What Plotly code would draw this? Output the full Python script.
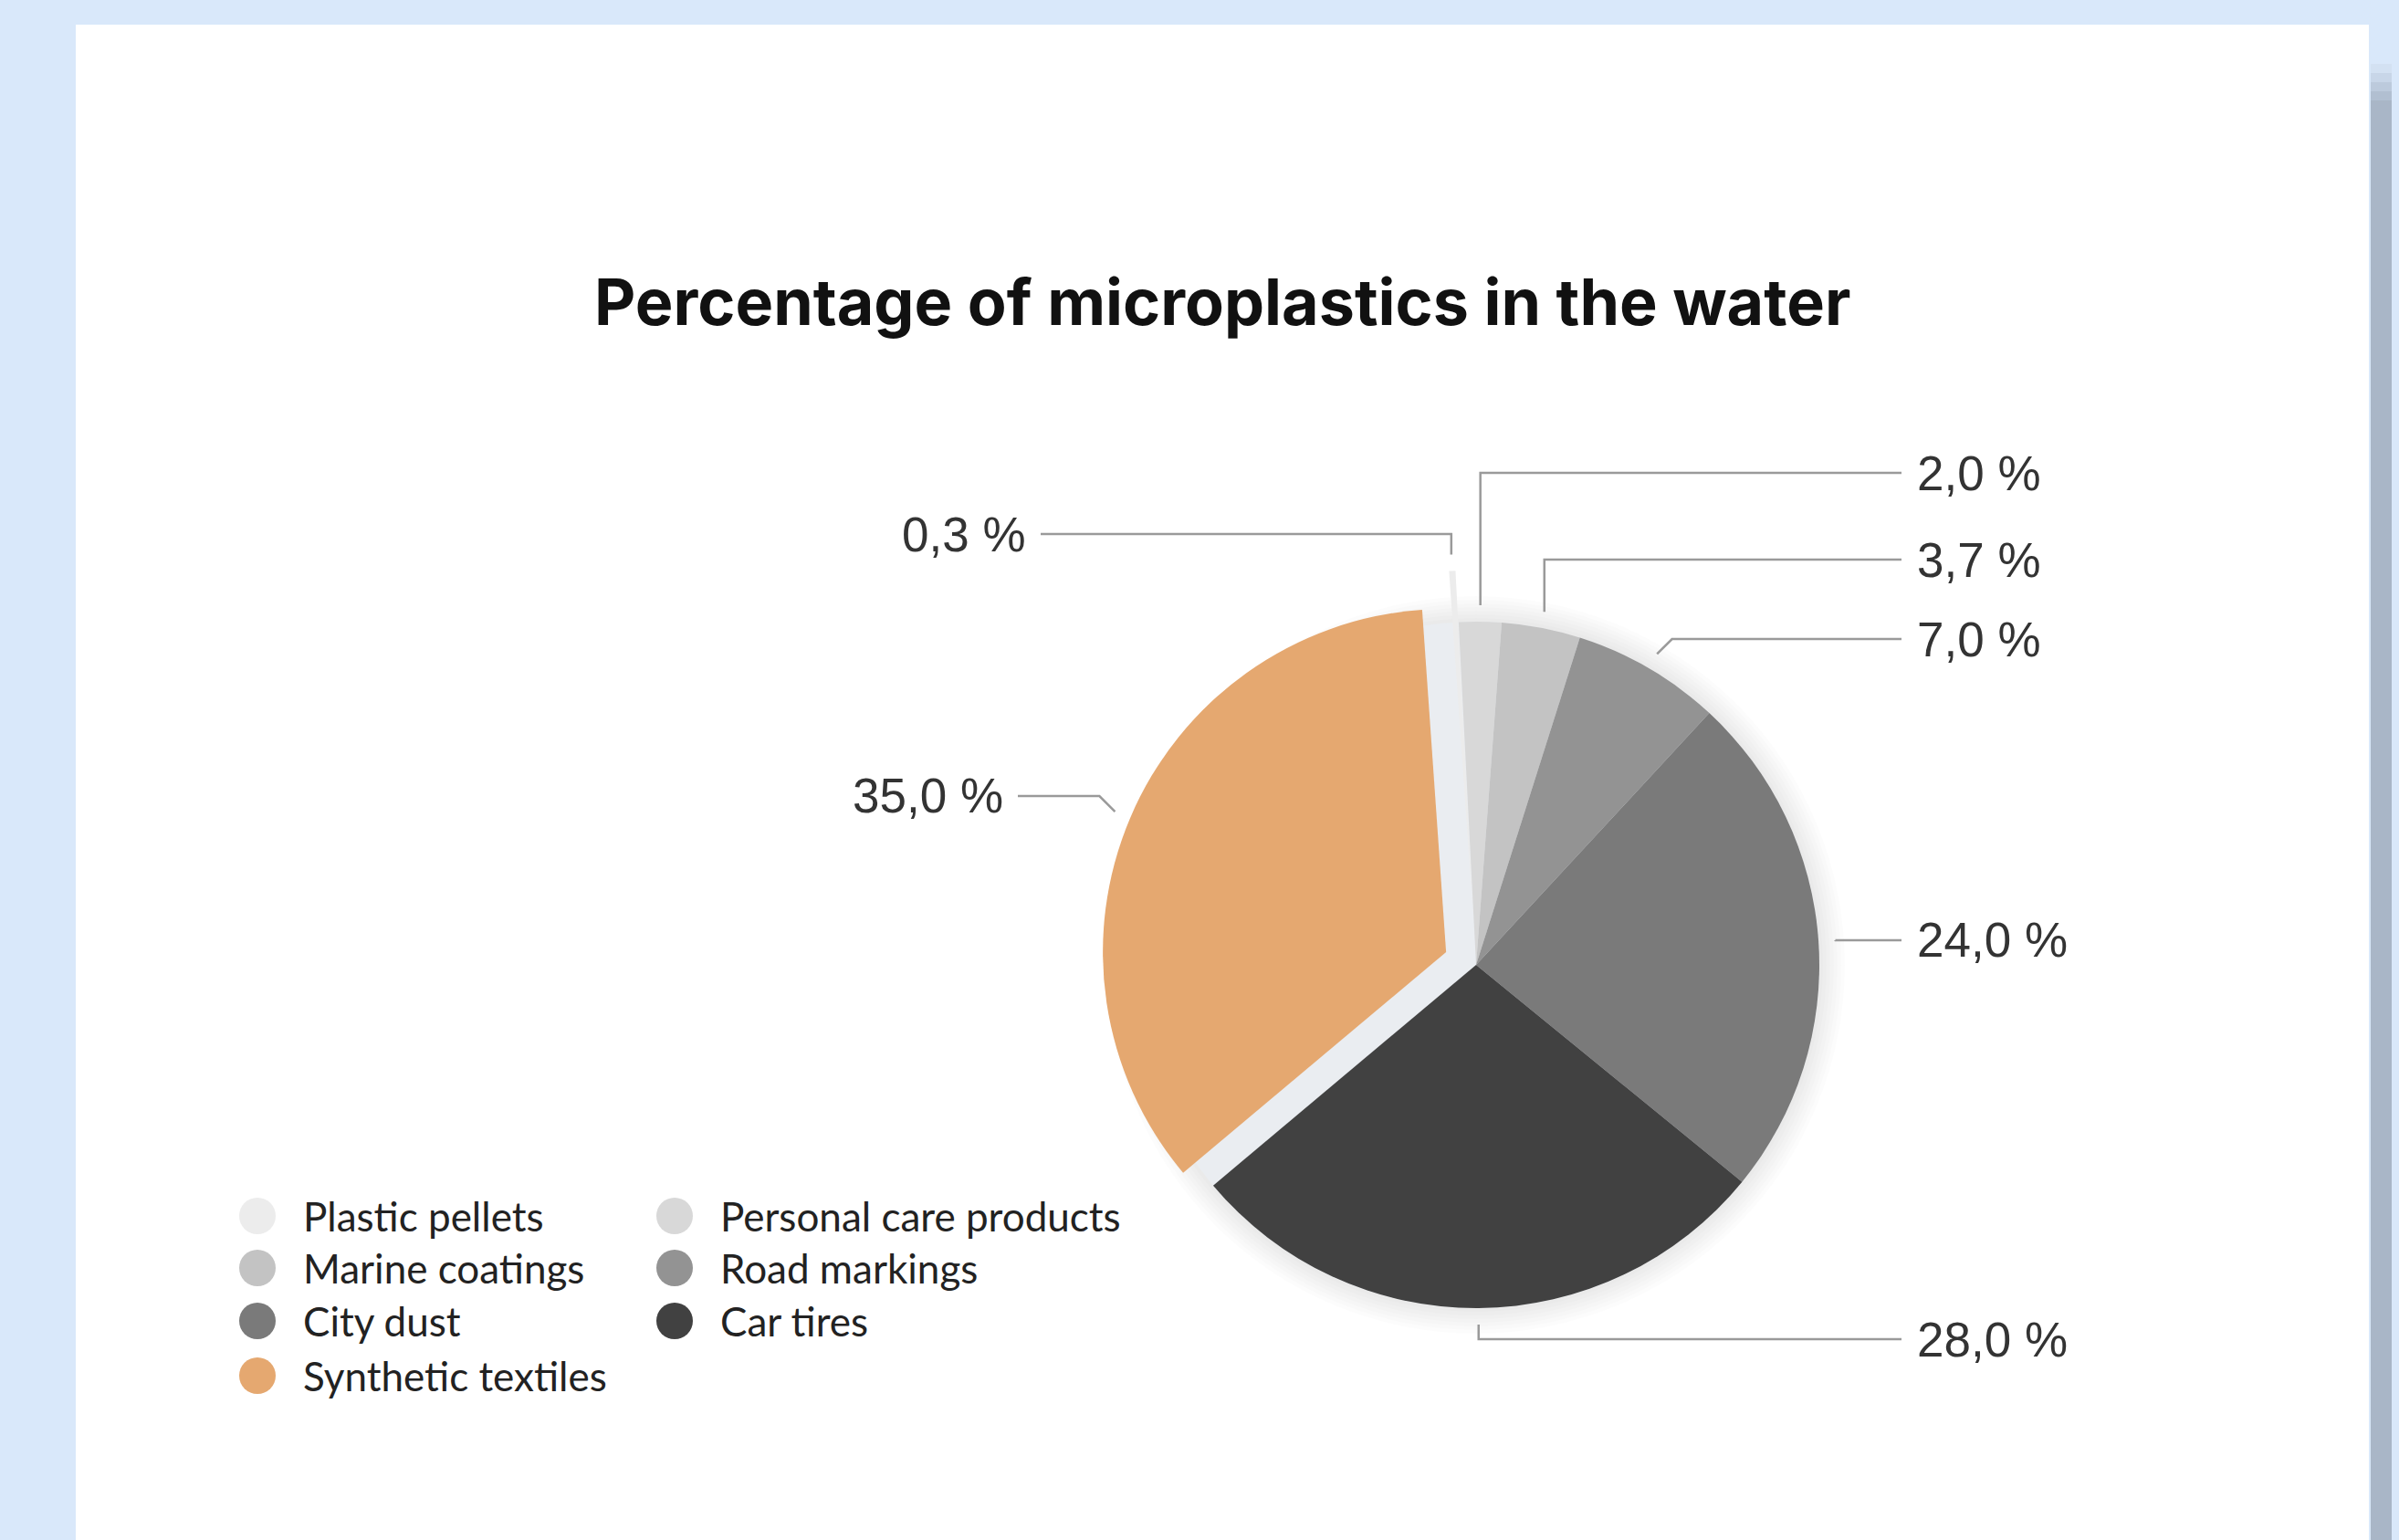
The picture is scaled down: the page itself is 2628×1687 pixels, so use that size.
import math
import plotly.graph_objects as go

# ---------------- data ----------------
categories = ["Plastic pellets", "Personal care products", "Marine coatings",
              "Road markings", "City dust", "Car tires", "Synthetic textiles"]
shares = [0.3, 2.0, 3.7, 7.0, 24.0, 28.0, 35.0]
colors = ["#ececec", "#d8d8d8", "#c3c3c3", "#939393", "#7a7a7a", "#414141", "#e5a870"]
pulls = [0.15, 0, 0, 0, 0, 0, 0.095]
title_text = "Percentage of microplastics in the water"

# ---------------- layout (pixels, screen coords) ----------------
W, H = 2628, 1687
OFF = 8                               # page body margin compensation
CX, CY, R = 1617, 1057, 376          # pie centre / radius
START_DEG = -4                        # first slice starts here (clockwise from 12 o'clock)
label_y = [585, 518, 613, 700, 1030, 1467, 872]
label_side = ["left", "right", "right", "right", "right", "right", "left"]
label_x = [1126, 2098, 2098, 2098, 2098, 2098, 1101]
legend_col_x = [282, 739]
legend_row_y = [1332, 1389, 1447, 1507]
BG = "#d9e8fa"


def px(x):
    return (x - OFF) / W


def py(y):
    return 1 - (y - OFF) / H


max_pull = max(pulls)
half = R * (1 + max_pull)
dom_x = [px(CX - half), px(CX + half)]
dom_y = [py(CY + half), py(CY - half)]

shapes = []
# background card + right shadow strip
shapes.append(dict(type="rect", xref="paper", yref="paper", x0=px(83), x1=px(2595),
                   y0=py(1720), y1=py(27), fillcolor="white", line=dict(width=0), layer="below"))
grad = ["#d3e1f2", "#c8d6e8", "#bccadc", "#b1bfd1", "#a9b6c7"]
for i, c in enumerate(grad):
    shapes.append(dict(type="rect", xref="paper", yref="paper", x0=px(2597), x1=px(2640),
                       y0=py(70 + i * 10 + 10), y1=py(70 + i * 10), fillcolor=c,
                       line=dict(width=0), layer="below"))
shapes.append(dict(type="rect", xref="paper", yref="paper", x0=px(2597), x1=px(2640),
                   y0=py(1720), y1=py(120), fillcolor="#a9b6c7", line=dict(width=0), layer="below"))

# soft glow around the pie
for k in range(7, 0, -1):
    rr = R + k * 4
    shapes.append(dict(type="circle", xref="paper", yref="paper",
                       x0=px(CX - rr), x1=px(CX + rr), y0=py(CY + rr), y1=py(CY - rr),
                       fillcolor="rgba(0,0,0,0.011)", line=dict(width=0), layer="below"))
shapes.append(dict(type="circle", xref="paper", yref="paper",
                   x0=px(CX - R), x1=px(CX + R), y0=py(CY + R), y1=py(CY - R),
                   fillcolor="#eaedf1", line=dict(width=0), layer="below"))

# leader lines + value labels
annotations = []
total = sum(shares)
cum = 0.0
for i, v in enumerate(shares):
    mid = math.radians(START_DEG + (cum + v / 2) / total * 360)
    cum += v
    rad = R * (1 + pulls[i]) + 18
    sx = CX + rad * math.sin(mid)
    sy = CY - rad * math.cos(mid)
    ly = label_y[i]
    dy = ly - sy
    if abs(dy) < 30 and abs(math.sin(mid)) > 0.3:
        ex = sx + (abs(dy) if math.sin(mid) > 0 else -abs(dy))
    else:
        ex = sx
    if label_side[i] == "right":
        hx = label_x[i] - 15
        xanchor = "left"
    else:
        hx = label_x[i] + 14
        xanchor = "right"
    path = f"M {px(sx)},{py(sy)} L {px(ex)},{py(ly)} L {px(hx)},{py(ly)}"
    shapes.append(dict(type="path", xref="paper", yref="paper", path=path,
                       line=dict(color="#9a9a9a", width=2.5)))
    annotations.append(dict(text=f"{v:.1f}".replace(".", ",") + " %", x=px(label_x[i]),
                            y=py(ly), xref="paper", yref="paper", xanchor=xanchor,
                            yanchor="middle", showarrow=False,
                            font=dict(family="Liberation Sans", size=53, color="#333333")))

# custom legend
for i, name in enumerate(categories):
    mx = legend_col_x[i % 2]
    my = legend_row_y[i // 2]
    shapes.append(dict(type="circle", xref="paper", yref="paper",
                       x0=px(mx - 20), x1=px(mx + 20), y0=py(my + 20), y1=py(my - 20),
                       fillcolor=colors[i], line=dict(width=0)))
    annotations.append(dict(text=name, x=px(mx + 48), y=py(my), xref="paper", yref="paper",
                            xanchor="left", yanchor="middle", showarrow=False,
                            font=dict(family="Lato", size=44, color="#222222")))

# title
annotations.append(dict(text=title_text, x=px(1339), y=py(330), xref="paper", yref="paper",
                        xanchor="center", yanchor="middle", showarrow=False,
                        font=dict(family="Inter", size=70, color="#111111", weight=700)))

fig = go.Figure(go.Pie(
    labels=categories, values=shares, sort=False, direction="clockwise",
    rotation=START_DEG, pull=pulls, textinfo="none", hoverinfo="label+percent",
    marker=dict(colors=colors, line=dict(width=0)),
    domain=dict(x=dom_x, y=dom_y), showlegend=False,
))

fig.update_layout(
    width=W, height=H, margin=dict(l=0, r=0, t=0, b=0),
    paper_bgcolor=BG, plot_bgcolor=BG,
    shapes=shapes, annotations=annotations, showlegend=False,
)

fig.write_html("out.html", post_script=f"document.body.style.background='{BG}';")
